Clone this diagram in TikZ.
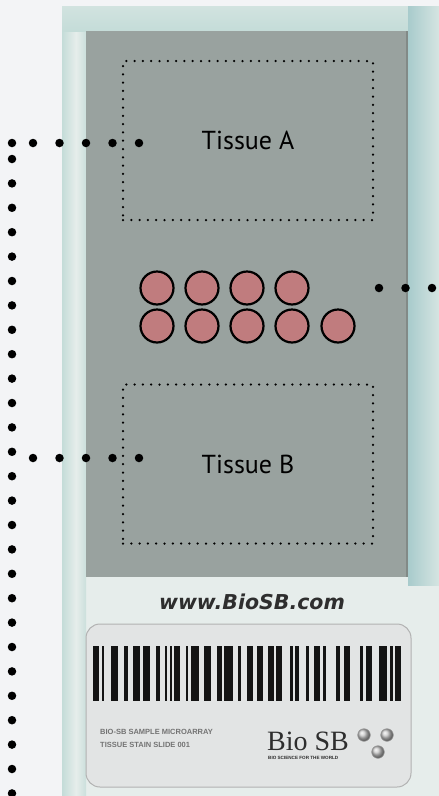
\documentclass[tikz,border=0pt]{standalone}
\usepackage{fontspec}
\newfontfamily\tissuefont{PT Sans}
\newfontfamily\wwwfont{DejaVu Sans}
\newfontfamily\logofont{Liberation Serif}
\newfontfamily\labelfont{Liberation Sans}
\definecolor{fond}{HTML}{F3F4F6}
\definecolor{lame}{HTML}{E6EDEB}
\definecolor{bord}{HTML}{C4DCD8}
\definecolor{bleu}{HTML}{A8CBCC}
\definecolor{verre}{HTML}{99A29F}
\definecolor{rose}{HTML}{C07C7E}
\definecolor{etiquette}{HTML}{E2E4E4}
\definecolor{encre}{HTML}{2E2E2E}

\begin{document}
\begin{tikzpicture}[x=1pt,y=-1pt]
\tikzset{zone/.style={draw, line width=2.5pt, dash pattern=on 0pt off 8.3pt, line cap=round, minimum width=250pt, minimum height=159pt, inner sep=0pt, font=\tissuefont\fontsize{26}{30}\selectfont},
pastille/.style={draw, circle, fill=rose, line width=2.2pt, minimum size=33pt, inner sep=0pt},
pointille/.style={line width=8.5pt, line cap=round, dash pattern=on 0pt off 26.5pt}}
\useasboundingbox (0,0) rectangle (439,796);
\fill[fond] (0,0) rectangle (439,796);
% la lame
\fill[lame] (62,6) rectangle (445,800);
\shade[left color=bord, right color=lame] (62,6) rectangle (76,800);
\shade[left color=lame, right color=bord!80!lame] (76,6) rectangle (86,800);
\shade[top color=bord!60!lame, bottom color=bord] (62,6) rectangle (439,31);
\shade[left color=bleu, right color=bord!50!lame] (408,6) rectangle (439,585);
\fill[verre] (86,31) rectangle (408,577);
\draw[verre!85!black, line width=2pt] (407,31) -- (407,577);
% zones de tissu
\node[zone] (tisA) at (248,140.5) {Tissue A};
\node[zone] (tisB) at (248,464) {Tissue B};
% pastilles
\node[pastille] (p1) at (157,288) {};
\node[pastille] (p2) at (202,288) {};
\node[pastille] (p3) at (247,288) {};
\node[pastille] (p4) at (292,288) {};
\node[pastille] (p5) at (157,326) {};
\node[pastille] (p6) at (202,326) {};
\node[pastille] (p7) at (247,326) {};
\node[pastille] (p8) at (292,326) {};
\node[pastille] (p9) at (338,326) {};
% pointilles
\coordinate (hA) at (139,143);
\coordinate (hA2) at (32.5,143);
\coordinate (coin) at (12,143);
\coordinate (vH) at (12,159);
\coordinate (vB) at (12,794);
\coordinate (hB) at (139,458);
\coordinate (hB2) at (32.5,458);
\coordinate (dD) at (379,288);
\coordinate (dD2) at (440,288);
\draw[pointille] (hA) -- (hA2);
\fill (coin) circle (4.25pt);
\draw[pointille, dash pattern=on 0pt off 24.4pt] (vH) -- (vB);
\draw[pointille] (hB) -- (hB2);
\draw[pointille] (dD) -- (dD2);
% etiquette
\node[font=\wwwfont\bfseries\itshape\fontsize{20.5}{24}\selectfont, text=encre, anchor=base] (www) at (252,609) {www.BioSB.com};
\draw[fill=etiquette, draw=black!30, line width=1pt, rounded corners=14pt] (86,624) rectangle (411,787);
\foreach \a/\b in {93/99, 102/104.3, 111/118.3, 124.3/127.7, 132.7/140, 143.3/150, 155.7/160, 165/167.3, 170/172.3, 174.3/180, 186/188.3, 191/199, 204.3/211, 216.7/221.7, 224.3/232.7, 238.3/240.7, 246.7/253.3, 257.3/263.3, 268.3/274, 276/282.3, 290/292.7, 295/299.3, 306/309.3, 314/320, 322.7/326, 336/340, 344.3/350, 360/363.3, 366/371.7, 379.3/386.7, 390/393.3, 395.3/401}
  \fill[black!92] (\a,646) rectangle (\b,701);
\node[font=\labelfont\bfseries\fontsize{7.5}{9}\selectfont, text=black!55, anchor=base west, inner sep=0pt] (code1) at (100,734) {BIO-SB SAMPLE MICROARRAY};
\node[font=\labelfont\bfseries\fontsize{7.5}{9}\selectfont, text=black!55, anchor=base west, inner sep=0pt] (code2) at (100,747) {TISSUE STAIN SLIDE 001};
\node[font=\logofont\fontsize{28}{32}\selectfont, text=encre, anchor=base west, inner sep=0pt] (logo) at (267,750) {Bio SB};
\node[font=\labelfont\bfseries\fontsize{4.6}{5}\selectfont, text=encre, anchor=base west, inner sep=0pt] (devise) at (268,759.5) {BIO SCIENCE FOR THE WORLD};
\shade[ball color=black!22, draw=black!40, line width=0.6pt] (364,735) circle (6.3pt);
\shade[ball color=black!22, draw=black!40, line width=0.6pt] (387,735) circle (6.3pt);
\shade[ball color=black!22, draw=black!40, line width=0.6pt] (378,752) circle (6.3pt);
\end{tikzpicture}
\end{document}
